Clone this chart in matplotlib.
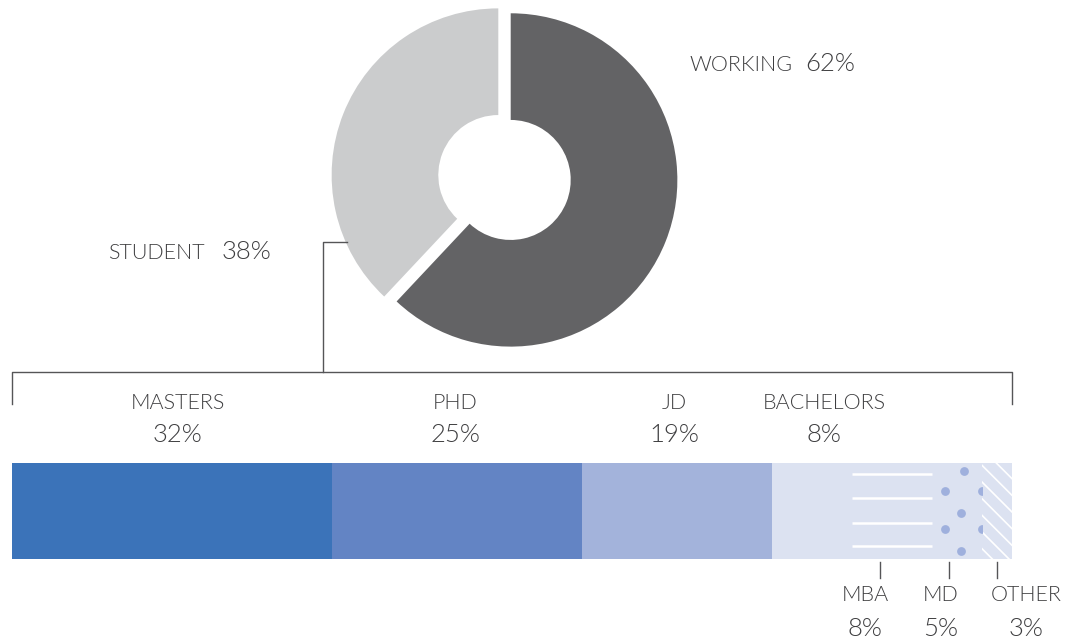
"""Working vs student split (donut) with the student degree breakdown (stacked bar)."""
import matplotlib
matplotlib.use("Agg")
import matplotlib.pyplot as plt

plt.rcParams["font.family"] = ["Lato", "DejaVu Sans"]
plt.rcParams["font.weight"] = 300
plt.rcParams["hatch.linewidth"] = 1.2

# donut data
status_labels = ["WORKING", "STUDENT"]
status_values = [62, 38]

# student degree breakdown (share of all students, %)
degree_labels = ["MASTERS", "PHD", "JD", "BACHELORS", "MBA", "MD", "OTHER"]
degree_values = [32, 25, 19, 8, 8, 5, 3]

STATUS_COLOURS = ["#636365", "#cbcccd"]
DEGREE_COLOURS = ["#3b73b9", "#6384c4", "#a3b3db", "#dce2f1", "#dce2f1", "#dce2f1", "#dce2f1"]
DOT_COLOUR = "#9fb0dd"
TEXT = "#3e3e40"
LINE = "#555557"

W, H = 1065, 642
fig = plt.figure(figsize=(W / 100, H / 100), dpi=100)


def px_rect(left, top, right, bottom):
    return [left / W, (H - bottom) / H, (right - left) / W, (bottom - top) / H]


# ---- donut -------------------------------------------------------------
ax_pie = fig.add_axes(px_rect(304.5, -22.5, 704.5, 377.5))
ax_pie.pie(
    status_values, colors=STATUS_COLOURS, startangle=90, counterclock=False,
    explode=[0.04, 0.04], radius=1.0, frame=True,
    wedgeprops=dict(width=0.64, linewidth=0),
)
ax_pie.set_xlim(-1.2, 1.2)
ax_pie.set_ylim(-1.2, 1.2)
ax_pie.set_aspect("equal")
ax_pie.axis("off")

# ---- stacked bar -------------------------------------------------------
ax_bar = fig.add_axes(px_rect(12, 463, 1012, 559))
left = 0
patches = []
for lab, val, col in zip(degree_labels, degree_values, DEGREE_COLOURS):
    hatch = "\\\\" if lab == "OTHER" else None
    edge = "white" if lab == "OTHER" else col
    bars = ax_bar.barh(0.5, val, left=left, height=1.0, color=col, edgecolor=edge,
                       linewidth=0, hatch=hatch)
    patches.append((lab, left, val, bars[0]))
    left += val
ax_bar.set_xlim(0, sum(degree_values))
ax_bar.set_ylim(0, 1)
ax_bar.axis("off")

# fill patterns for MBA (lines) and MD (dots)
for lab, start, val, patch in patches:
    if lab == "MBA":
        for fy in (0.885, 0.64, 0.378, 0.135):
            ax_bar.hlines(fy, start, start + val, color="white", linewidth=1.8)
    if lab == "MD":
        fx = [0.64, 0.26, 1.0, 0.58, 0.26, 1.0, 0.58]
        fy = [0.917, 0.708, 0.708, 0.479, 0.3125, 0.3125, 0.083]
        sc = ax_bar.scatter([start + f * val for f in fx], fy, s=40, color=DOT_COLOUR,
                            linewidths=0, zorder=3)
        sc.set_clip_path(patch)

# ---- annotations (pixel space overlay) -----------------------------------
ax = fig.add_axes([0, 0, 1, 1])
ax.set_xlim(0, W)
ax.set_ylim(H, 0)
ax.axis("off")
ax.patch.set_alpha(0)

LBL = 15.5
NUM = 18.5

# status labels
ax.text(689, 71, status_labels[0], fontsize=LBL, color=TEXT, va="baseline", ha="left")
ax.text(805, 71, f"{status_values[0]}%", fontsize=NUM, color=TEXT, va="baseline", ha="left")
ax.text(108, 259, status_labels[1], fontsize=LBL, color=TEXT, va="baseline", ha="left")
ax.text(222, 259, f"{status_values[1]}%", fontsize=NUM, color=TEXT, va="baseline", ha="left")

# connector from student slice to the breakdown bracket
ax.plot([347, 323, 323], [242, 242, 372], color=LINE, linewidth=1.0)
ax.plot([12, 12, 1012, 1012], [404, 372, 372, 404], color=LINE, linewidth=1.0)

# labels above the bar
top_x = [178, 455, 674, 824]
for x, lab, val in zip(top_x, degree_labels[:4], degree_values[:4]):
    ax.text(x, 409, lab, fontsize=LBL, color=TEXT, ha="center", va="baseline")
    ax.text(x, 442, f"{val}%", fontsize=NUM, color=TEXT, ha="center", va="baseline")

# labels below the bar
tick_x = [880, 949, 997]
bot_x = [865, 941, 1026]
for tx, x, lab, val in zip(tick_x, bot_x, degree_labels[4:], degree_values[4:]):
    ax.plot([tx, tx], [562, 578], color=LINE, linewidth=1.0)
    ax.text(x, 601, lab, fontsize=LBL, color=TEXT, ha="center", va="baseline")
    ax.text(x, 636, f"{val}%", fontsize=NUM, color=TEXT, ha="center", va="baseline")

fig.savefig("out.png", dpi=100)
